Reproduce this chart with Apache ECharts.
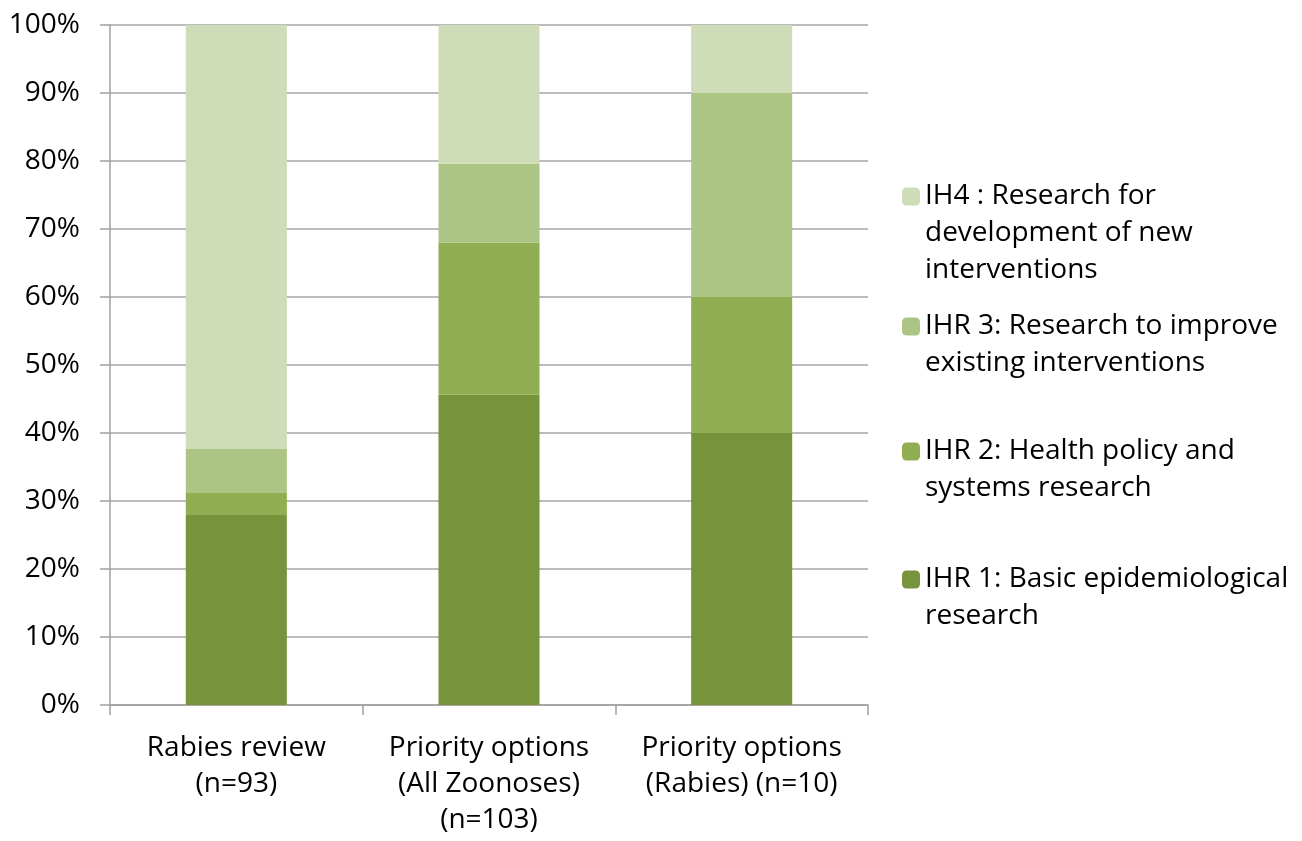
<!DOCTYPE html>
<html>
<head>
<meta charset="utf-8">
<title>Research categories</title>
<script src="https://cdn.jsdelivr.net/npm/echarts@6/dist/echarts.min.js"></script>
<style>
  html, body { margin: 0; padding: 0; background: #fff; }
  #main { width: 1302px; height: 841px; }
</style>
</head>
<body>
<div id="main"></div>
<script>
// categories (x axis)
var categories = ['Rabies review\n(n=93)', 'Priority options\n(All Zoonoses)\n(n=103)', 'Priority options\n(Rabies) (n=10)'];
// sample sizes, used to turn counts into percentages
var totals = [93, 103, 10];
// counts per category
var ihr1 = [26, 47, 4];
var ihr2 = [3, 23, 2];
var ihr3 = [6, 12, 3];
var ih4 = [58, 21, 1];
var yTicks = [0, 10, 20, 30, 40, 50, 60, 70, 80, 90, 100];

var names = ['IHR 1: Basic epidemiological\nresearch',
             'IHR 2: Health policy and\nsystems research',
             'IHR 3: Research to improve\nexisting interventions',
             'IH4 : Research for\ndevelopment of new\ninterventions'];
var colors = ['#77933c', '#91ae52', '#adc584', '#cedcb8'];

function pct(arr) {
    return arr.map(function (v, i) { return v / totals[i] * 100; });
}

var font = 'Open Sans';
var myChart = echarts.init(document.getElementById('main'));

// one legend per item so each block sits where it does in the original;
// blank lines in front keep the square level with the first line
function legendItem(name, top) {
    var lines = name.split('\n').length;
    var pad = '';
    for (var i = 1; i < lines; i++) pad += '\n';
    return {
        orient: 'vertical',
        left: 902,
        top: top,
        padding: 0,
        itemWidth: 18,
        itemHeight: 18,
        selectedMode: false,
        data: [name],
        formatter: function (n) { return pad + n; },
        textStyle: { fontFamily: font, fontSize: 28, color: '#000', lineHeight: 37 }
    };
}

var series = [ihr1, ihr2, ihr3, ih4].map(function (arr, k) {
    return {
        name: names[k],
        type: 'bar',
        stack: 'all',
        barWidth: '40%',
        itemStyle: { color: colors[k] },
        data: pct(arr)
    };
});

var option = {
    animation: false,
    grid: { left: 110, right: 434, top: 25, bottom: 136 },
    legend: [
        legendItem(names[3], 104),
        legendItem(names[2], 271),
        legendItem(names[1], 396),
        legendItem(names[0], 524)
    ],
    xAxis: {
        type: 'category',
        data: categories,
        axisLine: { lineStyle: { color: '#a0a0a0', width: 1.5 } },
        axisTick: { show: true, length: 10, lineStyle: { color: '#a0a0a0', width: 1.5 } },
        axisLabel: { interval: 0, hideOverlap: false, fontFamily: font, fontSize: 28, color: '#000', lineHeight: 36, margin: 25 }
    },
    yAxis: {
        type: 'value',
        min: yTicks[0],
        max: yTicks[yTicks.length - 1],
        interval: 10,
        axisLine: { show: true, lineStyle: { color: '#a0a0a0', width: 1.5 } },
        axisTick: { show: true, length: 10, lineStyle: { color: '#a0a0a0', width: 1.5 } },
        splitLine: { lineStyle: { color: '#a6a6a6', width: 1.5 } },
        axisLabel: { fontFamily: font, fontSize: 28, color: '#000', margin: 30, formatter: '{value}%' }
    },
    series: series
};
myChart.setOption(option);
</script>
</body>
</html>
